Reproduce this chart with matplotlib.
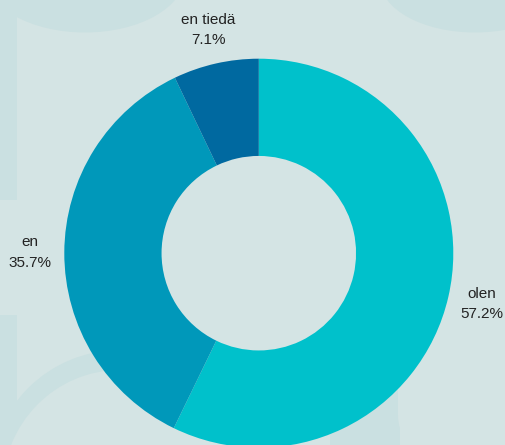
import matplotlib.pyplot as plt
from matplotlib.patches import Ellipse, Rectangle, FancyBboxPatch

labels = ['olen', 'en', 'en tiedä']
shares = [57.2, 35.7, 7.1]
colors = ['#00C1CB', '#0098BA', '#0069A0']

bg = '#D4E4E4'
bg_dark = '#CAE0E1'

W, H = 505, 445
fig = plt.figure(figsize=(W / 100, H / 100), dpi=100, facecolor=bg)

# faint decorative shapes behind the chart (pixel coords, y from top)
def px_patch(p):
    p.set_transform(fig.transFigure)
    p.set_zorder(-5)
    fig.patches.append(p)

def fx(x):
    return x / W

def fy(y):
    return 1 - y / H

px_patch(Rectangle((fx(0), fy(200)), fx(17), 200 / H, color=bg_dark, lw=0))
px_patch(Rectangle((fx(0), fy(445)), fx(17), 130 / H, color=bg_dark, lw=0))
px_patch(Ellipse((fx(85), fy(-25)), fx(200), 115 / H, color=bg_dark, lw=0))
px_patch(Ellipse((fx(475), fy(-20)), fx(190), 105 / H, color=bg_dark, lw=0))
px_patch(Ellipse((fx(120), fy(480)), fx(260), 260 / H, color=bg_dark, lw=0))
px_patch(Ellipse((fx(120), fy(490)), fx(235), 240 / H, color=bg, lw=0))
px_patch(Rectangle((fx(330), fy(445)), fx(70), 105 / H, color=bg_dark, lw=0))
px_patch(FancyBboxPatch((fx(398), fy(445)), fx(140), 108 / H,
                        boxstyle='round,pad=0,rounding_size=0.06',
                        color=bg, lw=0, mutation_aspect=W / H))

ax = fig.add_axes([0, 0, 1, 1])
ax.set_facecolor('none')

cx, cy, r = 258.8, 253.2, 194.5

txt = [f'{l}\n{s:.1f}%' for l, s in zip(labels, shares)]
wedges, texts = ax.pie(shares, labels=txt, colors=colors, startangle=90,
                       counterclock=False, radius=1, labeldistance=1.175,
                       wedgeprops=dict(width=0.5, linewidth=0),
                       textprops=dict(fontsize=11, color='#222222',
                                      family='Liberation Sans',
                                      linespacing=1.55))
for t in texts:
    t.set_ha('center')
    t.set_va('center')
ax.set_xlim(-cx / r, (W - cx) / r)
ax.set_ylim(-(H - cy) / r, cy / r)
ax.set_aspect('equal')
ax.axis('off')

fig.savefig('out.png', dpi=100, facecolor=bg)
